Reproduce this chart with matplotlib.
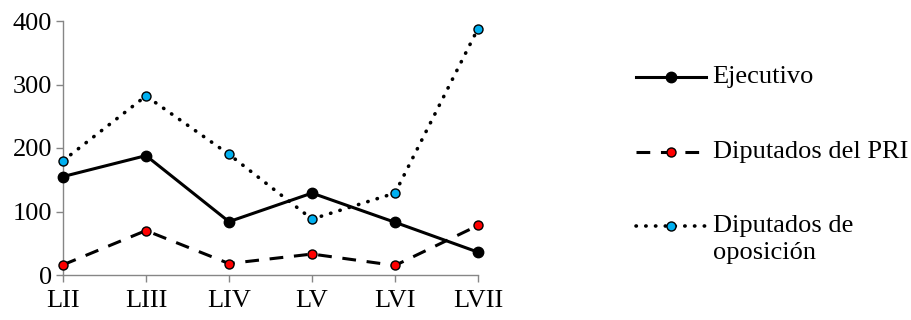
import matplotlib
matplotlib.use("Agg")
import matplotlib.pyplot as plt

categories = ["LII", "LIII", "LIV", "LV", "LVI", "LVII"]
ejecutivo = [155, 188, 84, 129, 83, 36]
diputados_pri = [16, 70, 18, 33, 15, 78]
diputados_oposicion = [180, 282, 190, 88, 129, 388]

plt.rcParams['font.family'] = ['Liberation Serif', 'DejaVu Serif']
FS = 19

fig = plt.figure(figsize=(9.12, 3.2), dpi=100)
ax = fig.add_axes([63/912, 45/320, 415/912, 254/320])

x = list(range(len(categories)))
ax.plot(x, ejecutivo, color='black', lw=2.2, marker='o', ms=7.5,
        mfc='black', mec='black', label='Ejecutivo', zorder=3)
ax.plot(x, diputados_pri, color='black', lw=2.2, linestyle=(0, (4.5, 3.5)),
        marker='o', ms=6.5, mfc='#FF0000', mec='black', mew=1.0,
        label='Diputados del PRI', zorder=3)
ax.plot(x, diputados_oposicion, color='black', lw=2.6, linestyle=(0, (0.1, 2.6)),
        dash_capstyle='round', marker='o', ms=6.5, mfc='#00B0F0', mec='black',
        mew=1.0, label='Diputados de\noposición', zorder=3)

ax.set_xlim(0, 5)
ax.set_ylim(0, 400)
ax.set_yticks([0, 100, 200, 300, 400])
ax.set_xticks(x)
ax.set_xticklabels(categories)
for s in ['top', 'right']:
    ax.spines[s].set_visible(False)
for s in ['left', 'bottom']:
    ax.spines[s].set_color('#868686')
    ax.spines[s].set_linewidth(1.0)
ax.tick_params(axis='both', colors='#868686', labelcolor='black',
               labelsize=FS, length=5, width=1.0, direction='out')
ax.tick_params(axis='x', pad=6)
ax.tick_params(axis='y', pad=3)
for m in ax.lines:
    m.set_clip_on(False)

leg = ax.legend(loc='upper left', bbox_to_anchor=(636/912, 254/320),
                bbox_transform=fig.transFigure, frameon=False, fontsize=FS,
                handlelength=2.65, handletextpad=0.25, labelspacing=1.8,
                handleheight=1.2, borderaxespad=0, borderpad=0)
for t in leg.get_texts():
    t.set_linespacing(1.3)
try:
    for col in leg._legend_handle_box.get_children():
        for row in col.get_children():
            row.align = 'top'
except Exception:
    pass

fig.savefig('out.png', dpi=100)
